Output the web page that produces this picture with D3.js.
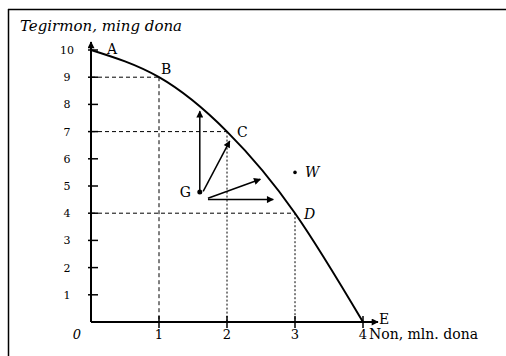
<!DOCTYPE html>
<html>
<head>
<meta charset="utf-8">
<script src="https://cdn.jsdelivr.net/npm/d3@7"></script>
<style>
	body { margin: 0; background: #fff; }
	svg { display: block; }
</style>
</head>
<body>
<script>
"use strict";

// frontier points A..E
const pointNames = ["A", "B", "C", "D", "E"];
const pointX = [0, 1, 2, 3, 4];
const pointY = [10, 9, 7, 4, 0];

const xTicks = [1, 2, 3, 4];
const yTicks = [1, 2, 3, 4, 5, 6, 7, 8, 9, 10];

// points inside / outside the frontier
const pointG = [1.6, 4.78];
const pointW = [3.0, 5.5];

// arrows from G: [x1, y1, x2, y2]
const arrowsFromG = [
	[1.6, 4.8, 1.6, 7.75],
	[1.65, 4.8, 2.04, 6.65],
	[1.72, 4.55, 2.49, 5.25],
	[1.72, 4.5, 2.68, 4.5]
];

const yTitle = "Tegirmon, ming dona";
const xTitle = "Non, mln. dona";

const width = 506;
const height = 356;
const serif = "'DejaVu Serif', 'Liberation Serif', serif";

const svg = d3.select("body").append("svg")
	.attr("width", width)
	.attr("height", height)
	.attr("font-family", serif)
	.style("font-family", serif);

const defs = svg.append("defs");
defs.append("marker")
	.attr("id", "head")
	.attr("viewBox", "0 0 10 10")
	.attr("refX", 9)
	.attr("refY", 5)
	.attr("markerWidth", 10)
	.attr("markerHeight", 7)
	.attr("markerUnits", "userSpaceOnUse")
	.attr("orient", "auto")
	.append("path")
	.attr("d", "M0,0 L10,5 L0,10 Z")
	.attr("fill", "#000");

const x = d3.scaleLinear().domain([0, 4]).range([91, 363]);
const y = d3.scaleLinear().domain([0, 10]).range([322, 50]);

// frame (left and top edge only)
svg.append("line").attr("x1", 8.5).attr("y1", 9).attr("x2", 8.5).attr("y2", height)
	.attr("stroke", "#000").attr("stroke-width", 1.5);
svg.append("line").attr("x1", 8).attr("y1", 9.5).attr("x2", width).attr("y2", 9.5)
	.attr("stroke", "#000").attr("stroke-width", 1.5);

// dashed guides
const guides = svg.append("g").attr("fill", "none").attr("stroke", "#000").attr("stroke-width", 1);
for (let i = 1; i < 4; i++) {
	guides.append("line")
		.attr("x1", x(0)).attr("y1", y(pointY[i]))
		.attr("x2", x(pointX[i])).attr("y2", y(pointY[i]))
		.attr("stroke-dasharray", "4,3");
	guides.append("line")
		.attr("x1", x(pointX[i])).attr("y1", y(pointY[i]))
		.attr("x2", x(pointX[i])).attr("y2", y(0))
		.attr("stroke-dasharray", i === 1 ? "4,3" : "2,2");
}

// axes
svg.append("line")
	.attr("x1", x(0)).attr("y1", y(0))
	.attr("x2", x(0)).attr("y2", y(10) - 8)
	.attr("stroke", "#000").attr("stroke-width", 2)
	.attr("marker-end", "url(#head)");
svg.append("line")
	.attr("x1", x(0)).attr("y1", y(0))
	.attr("x2", x(4) + 15).attr("y2", y(0))
	.attr("stroke", "#000").attr("stroke-width", 2)
	.attr("marker-end", "url(#head)");

const ticks = svg.append("g").attr("stroke", "#000").attr("stroke-width", 1.5);
ticks.selectAll("line.y").data(yTicks).join("line")
	.attr("class", "y")
	.attr("x1", x(0) - 3).attr("x2", x(0) + 7)
	.attr("y1", d => y(d)).attr("y2", d => y(d));
ticks.selectAll("line.x").data(xTicks).join("line")
	.attr("class", "x")
	.attr("x1", d => x(d)).attr("x2", d => x(d))
	.attr("y1", y(0) - 6).attr("y2", y(0) + 6);

svg.selectAll("text.ylab").data(yTicks).join("text")
	.attr("class", "ylab")
	.attr("x", 67).attr("y", d => y(d) + 4)
	.attr("text-anchor", "middle")
	.attr("font-size", 11)
	.text(d => d);
svg.selectAll("text.xlab").data(xTicks).join("text")
	.attr("class", "xlab")
	.attr("x", d => x(d)).attr("y", 339)
	.attr("text-anchor", "middle")
	.attr("font-size", 13)
	.text(d => d);
svg.append("text").attr("x", 77).attr("y", 339)
	.attr("text-anchor", "middle").attr("font-size", 13).attr("font-style", "italic")
	.text("0");
svg.append("text").attr("x", x(4) + 6).attr("y", 339)
	.attr("font-size", 14)
	.text(xTitle);
svg.append("text").attr("x", 20).attr("y", 31)
	.attr("font-size", 15).attr("font-style", "italic")
	.text(yTitle);

// production possibility frontier
const frontier = pointX.map((d, i) => [d, pointY[i]]);
svg.append("path")
	.datum(frontier)
	.attr("fill", "none")
	.attr("stroke", "#000")
	.attr("stroke-width", 2)
	.attr("d", d3.line().x(d => x(d[0])).y(d => y(d[1])).curve(d3.curveNatural));

// point letters
const labelDx = [16, 2, 10, 9, 16];
const labelDy = [4, -3, 5, 6, 2];
svg.selectAll("text.pt").data(pointNames).join("text")
	.attr("class", "pt")
	.attr("x", (d, i) => x(pointX[i]) + labelDx[i])
	.attr("y", (d, i) => y(pointY[i]) + labelDy[i])
	.attr("font-size", 14)
	.attr("font-style", (d, i) => i === 3 ? "italic" : "normal")
	.text(d => d);

// arrows
svg.append("g").selectAll("line").data(arrowsFromG).join("line")
	.attr("x1", d => x(d[0])).attr("y1", d => y(d[1]))
	.attr("x2", d => x(d[2])).attr("y2", d => y(d[3]))
	.attr("stroke", "#000").attr("stroke-width", 1.5)
	.attr("marker-end", "url(#head)");

svg.append("circle").attr("cx", x(pointG[0])).attr("cy", y(pointG[1])).attr("r", 2.5).attr("fill", "#000");
svg.append("text").attr("x", x(pointG[0]) - 20).attr("y", y(pointG[1]) + 5)
	.attr("font-size", 14).text("G");
svg.append("circle").attr("cx", x(pointW[0])).attr("cy", y(pointW[1])).attr("r", 1.8).attr("fill", "#000");
svg.append("text").attr("x", x(pointW[0]) + 10).attr("y", y(pointW[1]) + 5)
	.attr("font-size", 14).attr("font-style", "italic").text("W");
</script>
</body>
</html>
